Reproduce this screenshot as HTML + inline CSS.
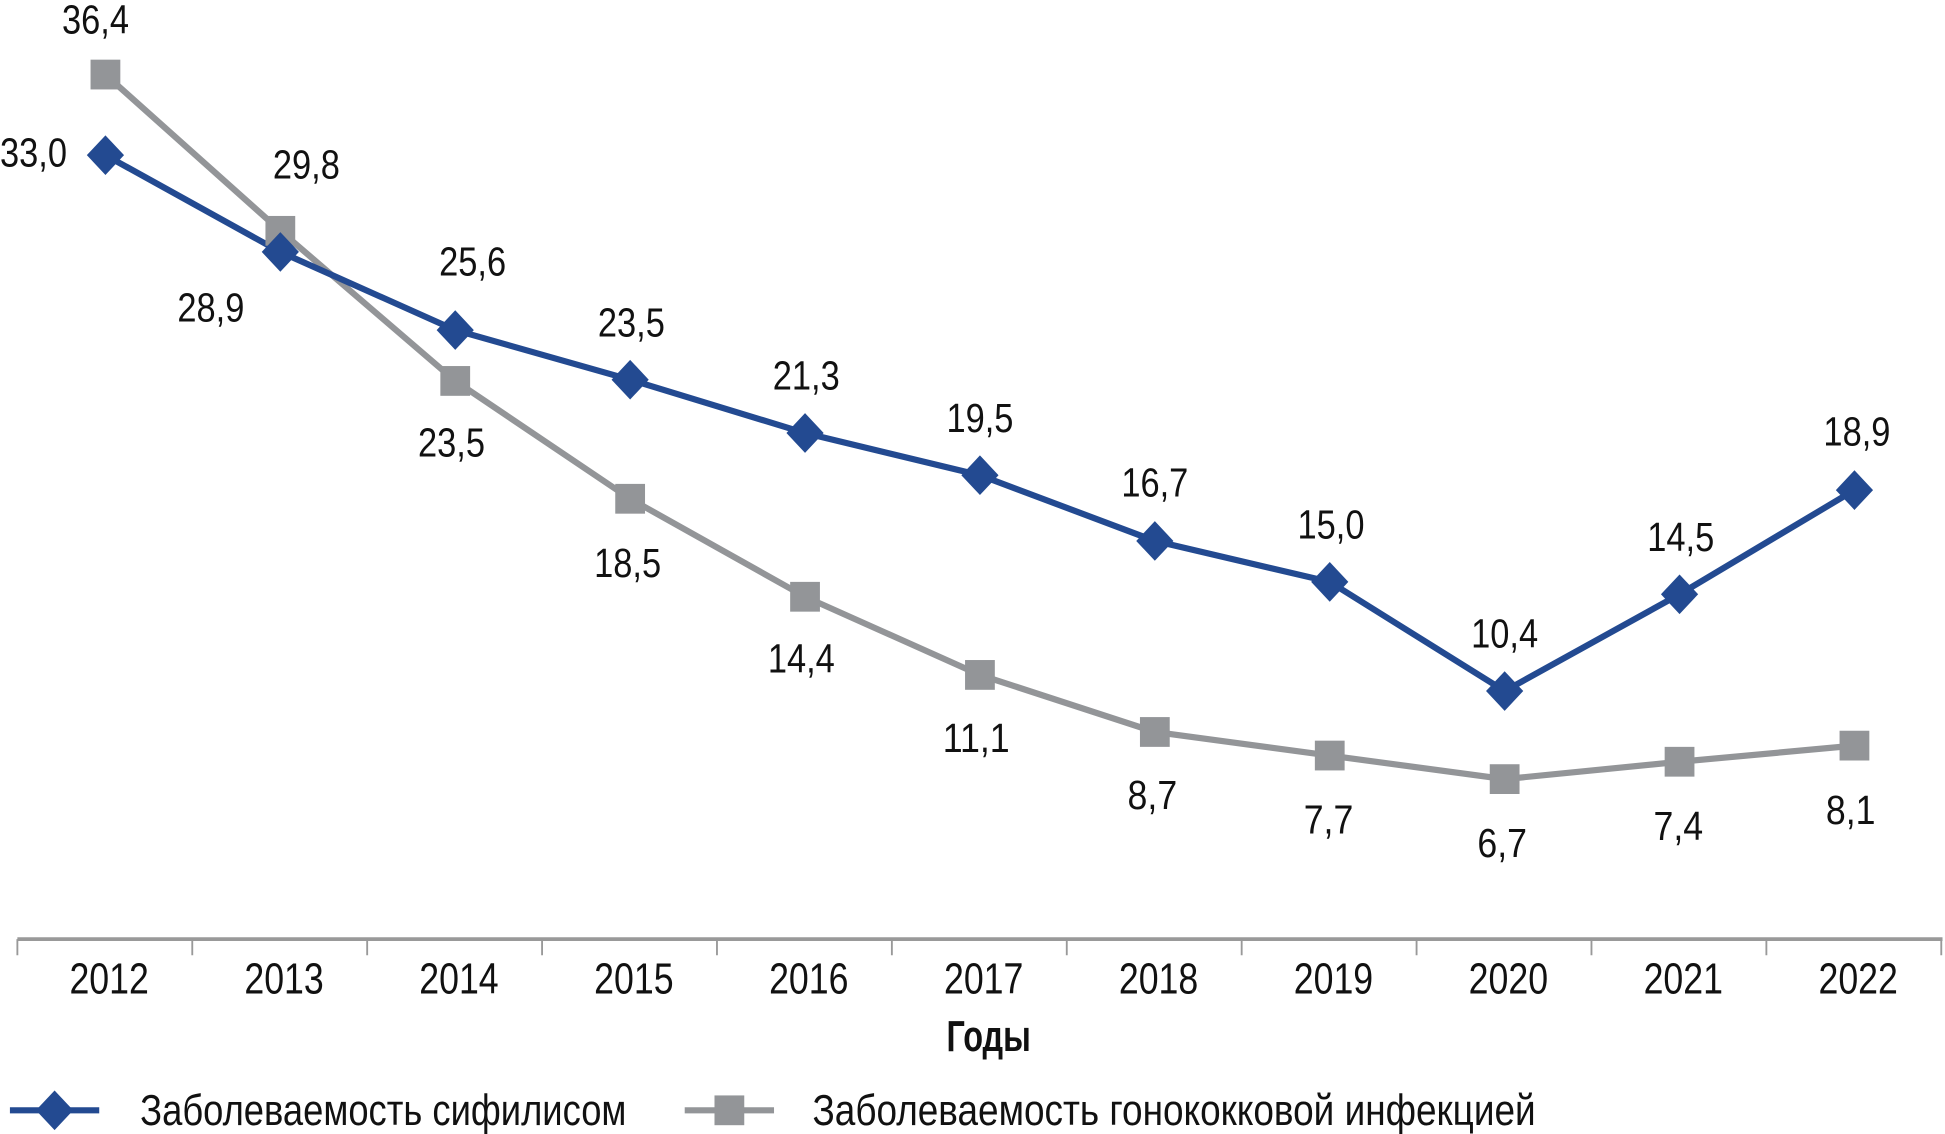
<!DOCTYPE html>
<html><head><meta charset="utf-8"><style>
html,body{margin:0;padding:0;background:#fff;}
svg{display:block}
text{font-family:"Liberation Sans Narrow","Liberation Sans",sans-serif;fill:#111;}
</style></head><body>
<svg width="1945" height="1134" viewBox="0 0 1568 914" xmlns="http://www.w3.org/2000/svg">
<defs>
<g id="dia"><polygon points="0,-16 15,0 0,16 -15,0" fill="#234a91"/></g>
<g id="sq"><rect x="-12" y="-12" width="24" height="24" fill="#939598"/></g>
</defs>
<line x1="14" y1="757" x2="1566" y2="757" stroke="#999" stroke-width="3"/>
<g stroke="#999" stroke-width="1.5">
<line x1="14" y1="757" x2="14" y2="770"/><line x1="155" y1="757" x2="155" y2="770"/><line x1="296" y1="757" x2="296" y2="770"/><line x1="437" y1="757" x2="437" y2="770"/><line x1="578" y1="757" x2="578" y2="770"/><line x1="719" y1="757" x2="719" y2="770"/><line x1="860" y1="757" x2="860" y2="770"/><line x1="1001" y1="757" x2="1001" y2="770"/><line x1="1142" y1="757" x2="1142" y2="770"/><line x1="1283" y1="757" x2="1283" y2="770"/><line x1="1424" y1="757" x2="1424" y2="770"/><line x1="1565" y1="757" x2="1565" y2="770"/>
</g>
<g font-size="35" text-anchor="middle">
<text x="88" y="801" textLength="64" lengthAdjust="spacingAndGlyphs">2012</text>
<text x="229" y="801" textLength="64" lengthAdjust="spacingAndGlyphs">2013</text>
<text x="370" y="801" textLength="64" lengthAdjust="spacingAndGlyphs">2014</text>
<text x="511" y="801" textLength="64" lengthAdjust="spacingAndGlyphs">2015</text>
<text x="652" y="801" textLength="64" lengthAdjust="spacingAndGlyphs">2016</text>
<text x="793" y="801" textLength="64" lengthAdjust="spacingAndGlyphs">2017</text>
<text x="934" y="801" textLength="64" lengthAdjust="spacingAndGlyphs">2018</text>
<text x="1075" y="801" textLength="64" lengthAdjust="spacingAndGlyphs">2019</text>
<text x="1216" y="801" textLength="64" lengthAdjust="spacingAndGlyphs">2020</text>
<text x="1357" y="801" textLength="64" lengthAdjust="spacingAndGlyphs">2021</text>
<text x="1498" y="801" textLength="64" lengthAdjust="spacingAndGlyphs">2022</text>
<text x="797" y="847" font-weight="bold" textLength="68" lengthAdjust="spacingAndGlyphs">Годы</text>
</g>
<polyline fill="none" stroke="#939598" stroke-width="5" points="85,60 226,186 367,307 508,402 649,481 790,544 931,590 1072,609 1213,628 1354,614 1495,601"/>
<polyline fill="none" stroke="#234a91" stroke-width="5" points="85,125 226,203 367,266 508,306 649,349 790,383 931,436 1072,469 1213,557 1354,479 1495,395"/>
<use href="#sq" x="85" y="60"/><use href="#sq" x="226" y="186"/><use href="#sq" x="367" y="307"/><use href="#sq" x="508" y="402"/><use href="#sq" x="649" y="481"/><use href="#sq" x="790" y="544"/><use href="#sq" x="931" y="590"/><use href="#sq" x="1072" y="609"/><use href="#sq" x="1213" y="628"/><use href="#sq" x="1354" y="614"/><use href="#sq" x="1495" y="601"/>
<use href="#dia" x="85" y="125"/><use href="#dia" x="226" y="203"/><use href="#dia" x="367" y="266"/><use href="#dia" x="508" y="306"/><use href="#dia" x="649" y="349"/><use href="#dia" x="790" y="383"/><use href="#dia" x="931" y="436"/><use href="#dia" x="1072" y="469"/><use href="#dia" x="1213" y="557"/><use href="#dia" x="1354" y="479"/><use href="#dia" x="1495" y="395"/>
<g font-size="33" text-anchor="middle">
<text x="27" y="134" textLength="54" lengthAdjust="spacingAndGlyphs">33,0</text>
<text x="170" y="259" textLength="54" lengthAdjust="spacingAndGlyphs">28,9</text>
<text x="381" y="222" textLength="54" lengthAdjust="spacingAndGlyphs">25,6</text>
<text x="509" y="271" textLength="54" lengthAdjust="spacingAndGlyphs">23,5</text>
<text x="650" y="314" textLength="54" lengthAdjust="spacingAndGlyphs">21,3</text>
<text x="790" y="348" textLength="54" lengthAdjust="spacingAndGlyphs">19,5</text>
<text x="931" y="400" textLength="54" lengthAdjust="spacingAndGlyphs">16,7</text>
<text x="1073" y="434" textLength="54" lengthAdjust="spacingAndGlyphs">15,0</text>
<text x="1213" y="522" textLength="54" lengthAdjust="spacingAndGlyphs">10,4</text>
<text x="1355" y="444" textLength="54" lengthAdjust="spacingAndGlyphs">14,5</text>
<text x="1497" y="359" textLength="54" lengthAdjust="spacingAndGlyphs">18,9</text>
<text x="77" y="27" textLength="54" lengthAdjust="spacingAndGlyphs">36,4</text>
<text x="247" y="144" textLength="54" lengthAdjust="spacingAndGlyphs">29,8</text>
<text x="364" y="368" textLength="54" lengthAdjust="spacingAndGlyphs">23,5</text>
<text x="506" y="465" textLength="54" lengthAdjust="spacingAndGlyphs">18,5</text>
<text x="646" y="542" textLength="54" lengthAdjust="spacingAndGlyphs">14,4</text>
<text x="787" y="606" textLength="54" lengthAdjust="spacingAndGlyphs">11,1</text>
<text x="929" y="652" textLength="40" lengthAdjust="spacingAndGlyphs">8,7</text>
<text x="1071" y="672" textLength="40" lengthAdjust="spacingAndGlyphs">7,7</text>
<text x="1211" y="691" textLength="40" lengthAdjust="spacingAndGlyphs">6,7</text>
<text x="1353" y="677" textLength="40" lengthAdjust="spacingAndGlyphs">7,4</text>
<text x="1492" y="664" textLength="40" lengthAdjust="spacingAndGlyphs">8,1</text>
</g>
<line x1="8" y1="895" x2="80" y2="895" stroke="#234a91" stroke-width="5"/>
<use href="#dia" x="44" y="895"/>
<line x1="552" y1="895" x2="624" y2="895" stroke="#939598" stroke-width="5"/>
<use href="#sq" x="588" y="895"/>
<g font-size="35">
<text x="113" y="907" textLength="392" lengthAdjust="spacingAndGlyphs">Заболеваемость сифилисом</text>
<text x="655" y="907" textLength="583" lengthAdjust="spacingAndGlyphs">Заболеваемость гонококковой инфекцией</text>
</g>
</svg>
</body></html>
